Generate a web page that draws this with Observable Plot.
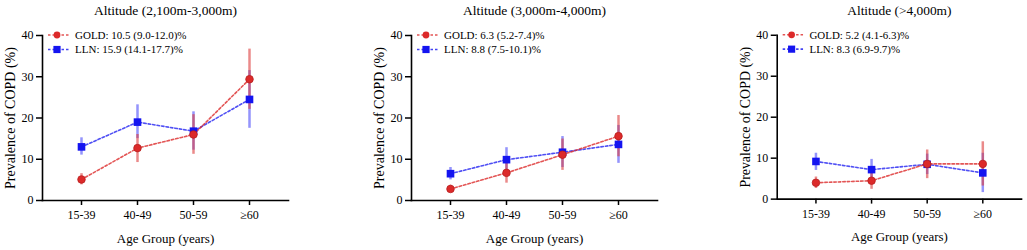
<!DOCTYPE html>
<html>
<head>
<meta charset="utf-8">
<script src="https://cdn.jsdelivr.net/npm/d3@7"></script>
<script src="https://cdn.jsdelivr.net/npm/@observablehq/plot@0.6"></script>
<style>
  html, body { margin: 0; padding: 0; background: white; }
  #wrap { position: relative; width: 1027px; height: 250px; overflow: hidden; }
  .panel { position: absolute; top: 0; }
  #wrap svg text { font-family: 'Liberation Serif', 'Times New Roman', serif; }
</style>
</head>
<body>
<div id="wrap"></div>
<script>
const ageGroups = ["15-39", "40-49", "50-59", "≥60"];
const panelTitles = ["Altitude (2,100m-3,000m)", "Altitude (3,000m-4,000m)", "Altitude (>4,000m)"];
const goldLegend = ["GOLD: 10.5 (9.0-12.0)%", "GOLD: 6.3 (5.2-7.4)%", "GOLD: 5.2 (4.1-6.3)%"];
const llnLegend = ["LLN: 15.9 (14.1-17.7)%", "LLN: 8.8 (7.5-10.1)%", "LLN: 8.3 (6.9-9.7)%"];
const goldValues = [[5.1, 12.7, 16.0, 29.4], [2.8, 6.7, 11.1, 15.6], [4.0, 4.5, 8.6, 8.6]];
const goldLower  = [[3.8, 9.2, 11.2, 22.1], [2.1, 4.2, 7.3, 10.6], [2.6, 2.4, 5.0, 3.2]];
const goldUpper  = [[6.5, 16.0, 20.8, 36.7], [3.7, 9.2, 14.9, 20.6], [5.4, 6.7, 12.0, 14.0]];
const llnValues  = [[13.0, 19.0, 16.8, 24.5], [6.5, 9.9, 11.7, 13.6], [9.2, 7.2, 8.5, 6.4]];
const llnLower   = [[11.0, 15.0, 12.2, 17.5], [5.0, 7.0, 8.0, 9.0], [7.0, 4.7, 6.0, 1.6]];
const llnUpper   = [[15.2, 23.2, 21.5, 31.5], [8.0, 12.8, 15.5, 18.2], [11.2, 9.7, 11.0, 11.2]];
const yTicks = [0, 10, 20, 30, 40];
const xLabel = "Age Group (years)";
const yLabel = "Prevalence of COPD (%)";

const RED = "#dc2a2a", BLUE = "#1414f0";
const RED_ERR = "rgba(220,60,60,0.6)", BLUE_ERR = "rgba(60,60,250,0.55)";
const FONT = "'Liberation Serif', 'Times New Roman', serif";
const panelLeft = [0, 369, 735];
const W = 294, ML = 42, MR = 6, MT = 35, MB = 50, H = 250;

const wrap = document.getElementById("wrap");

panelTitles.forEach((title, p) => {
  const gold = ageGroups.map((a, i) => ({age: a, v: goldValues[p][i], lo: goldLower[p][i], hi: goldUpper[p][i]}));
  const lln = ageGroups.map((a, i) => ({age: a, v: llnValues[p][i], lo: llnLower[p][i], hi: llnUpper[p][i]}));

  const chart = Plot.plot({
    width: W, height: H,
    marginLeft: ML, marginRight: MR, marginTop: MT, marginBottom: MB,
    style: {fontFamily: FONT, fontSize: "12px", background: "white", color: "black", overflow: "visible"},
    x: {type: "point", domain: ageGroups, padding: 0.66},
    y: {domain: [0, 40]},
    marks: [
      Plot.axisY({ticks: yTicks, tickSize: 6, tickPadding: 3, fontSize: 12, label: null, strokeWidth: 1.5}),
      Plot.axisX({tickSize: 5, tickPadding: 5, fontSize: 12, label: null, strokeWidth: 1.5}),
      Plot.ruleX(lln, {x: "age", y1: "lo", y2: "hi", stroke: BLUE_ERR, strokeWidth: 2.5}),
      Plot.ruleX(gold, {x: "age", y1: "lo", y2: "hi", stroke: RED_ERR, strokeWidth: 2.5}),
      Plot.line(lln, {x: "age", y: "v", stroke: BLUE, strokeOpacity: 0.75, strokeWidth: 1.6, strokeDasharray: "2.5,2"}),
      Plot.line(gold, {x: "age", y: "v", stroke: RED, strokeOpacity: 0.8, strokeWidth: 1.6, strokeDasharray: "2.5,2"}),
      Plot.dot(lln, {x: "age", y: "v", symbol: "square", r: 4.3, fill: BLUE, stroke: "none"}),
      Plot.dot(gold, {x: "age", y: "v", symbol: "circle", r: 3.8, fill: RED, stroke: "#b81e1e", strokeWidth: 0.8}),
      Plot.frame({anchor: "left", stroke: "black", strokeWidth: 1.6}),
      Plot.frame({anchor: "bottom", stroke: "black", strokeWidth: 1.6}),
      Plot.text([title], {frameAnchor: "top", dy: -25, fontSize: 13.5, lineAnchor: "middle", fill: "black"}),
      Plot.text([xLabel], {frameAnchor: "bottom", dy: 38, fontSize: 13, lineAnchor: "middle", fill: "black"}),
      Plot.text([yLabel], {frameAnchor: "left", dx: -32, rotate: -90, fontSize: 14, lineAnchor: "middle", textAnchor: "middle", fill: "black"})
    ]
  });

  // legend inside the plot area (top-left)
  const svg = d3.select(chart);
  const lg = svg.append("g").attr("transform", `translate(${ML},${MT})`).attr("text-anchor", "start");
  const items = [
    {label: goldLegend[p], color: RED, sym: "circle", y: 0},
    {label: llnLegend[p], color: BLUE, sym: "square", y: 14.5}
  ];
  items.forEach(it => {
    lg.append("line")
      .attr("x1", 6).attr("x2", 28).attr("y1", it.y).attr("y2", it.y)
      .attr("stroke", it.color).attr("stroke-opacity", 0.8).attr("stroke-width", 1.6).attr("stroke-dasharray", "2.5,2");
    if (it.sym === "circle") {
      lg.append("circle").attr("cx", 15).attr("cy", it.y).attr("r", 3.4).attr("fill", it.color);
    } else {
      lg.append("rect").attr("x", 15 - 3.6).attr("y", it.y - 3.6).attr("width", 7.2).attr("height", 7.2).attr("fill", it.color);
    }
    lg.append("text").attr("x", 33).attr("y", it.y).attr("dy", "0.35em")
      .attr("text-anchor", "start")
      .attr("font-size", 11).attr("font-family", FONT).attr("fill", "black").text(it.label);
  });

  const div = document.createElement("div");
  div.className = "panel";
  div.style.left = panelLeft[p] + "px";
  div.appendChild(chart);
  wrap.appendChild(div);
});
</script>
</body>
</html>
